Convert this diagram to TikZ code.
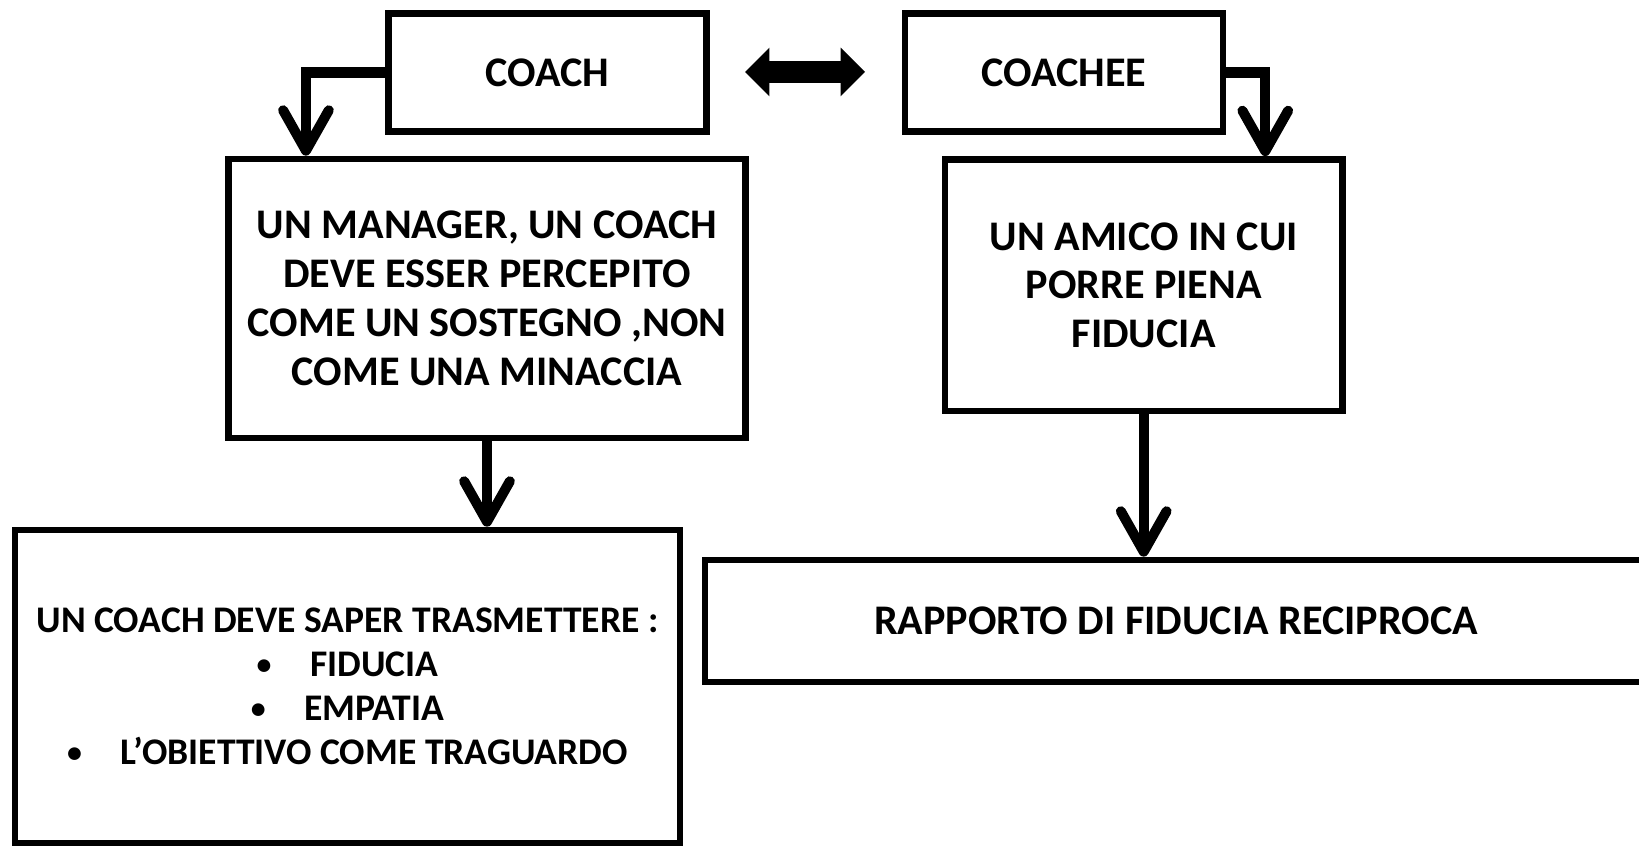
\documentclass[tikz,border=0pt]{standalone}
\usepackage{fontspec}
\setmainfont{Carlito}
\usetikzlibrary{arrows.meta,shapes.arrows}

\newcommand{\itemdot}{{\fontsize{17}{17}\selectfont\raisebox{1pt}{\textbullet}}\hspace{22pt}}

\begin{document}
\begin{tikzpicture}[
  x = 0.02cm, y = -0.02cm,
  box/.style = {rectangle, draw, line width = 3.8pt, align = center,
    inner sep = 0pt, font = \fontsize{24}{27.8}\selectfont\bfseries},
  link/.style = {line width = 5.7pt,
    -{Straight Barb[round, length = 23pt, width = 26pt]}}
  ]
  \useasboundingbox (0,0) rectangle (1639,847);

  % Nodes
  \node at ( 547.5,  72.5) [box, name = coach,
    minimum width = 6.36cm, minimum height = 2.36cm] {COACH};
  \node at (1064  ,  72.5) [box, name = coachee,
    minimum width = 6.36cm, minimum height = 2.36cm] {COACHEE};

  \node at ( 487  , 298.5) [box, name = manager,
    minimum width = 10.35cm, minimum height = 5.58cm]
    {UN MANAGER, UN COACH\\DEVE ESSER PERCEPITO\\COME UN SOSTEGNO ,NON\\COME UNA MINACCIA};
  \node at (1143.7, 285.2) [box, name = friend,
    minimum width = 7.95cm, minimum height = 5.03cm]
    {UN AMICO IN CUI\\PORRE PIENA\\FIDUCIA};

  \node at ( 347.5, 686.5) [box, name = skills,
    minimum width = 13.3cm, minimum height = 6.26cm,
    font = \fontsize{21.4}{25}\selectfont\bfseries]
    {UN COACH DEVE SAPER TRASMETTERE :\\
     \itemdot FIDUCIA\\
     \itemdot EMPATIA\\
     \itemdot L’OBIETTIVO COME TRAGUARDO};
  \node at (1176  , 621  ) [box, name = mutual,
    minimum width = 18.84cm, minimum height = 2.44cm]
    {RAPPORTO DI FIDUCIA RECIPROCA};

  % two-way link between the roles
  \node at ( 805  ,  72  ) [double arrow, fill, name = bond,
    minimum height = 2.4cm, minimum width = 0.96cm, inner sep = 0.21cm,
    double arrow head extend = 0.27cm, double arrow tip angle = 90] {};

  % Arrows
  \draw [link] (coach.west) -| ([xshift = 1.62cm] manager.north west);
  \draw [link] (coachee.east) -| ([xshift = -1.61cm] friend.north east);
  \draw [link] (manager.south) -- (manager.south |- skills.north);
  \draw [link] (friend.south) -- (friend.south |- mutual.north);

\end{tikzpicture}
\end{document}
